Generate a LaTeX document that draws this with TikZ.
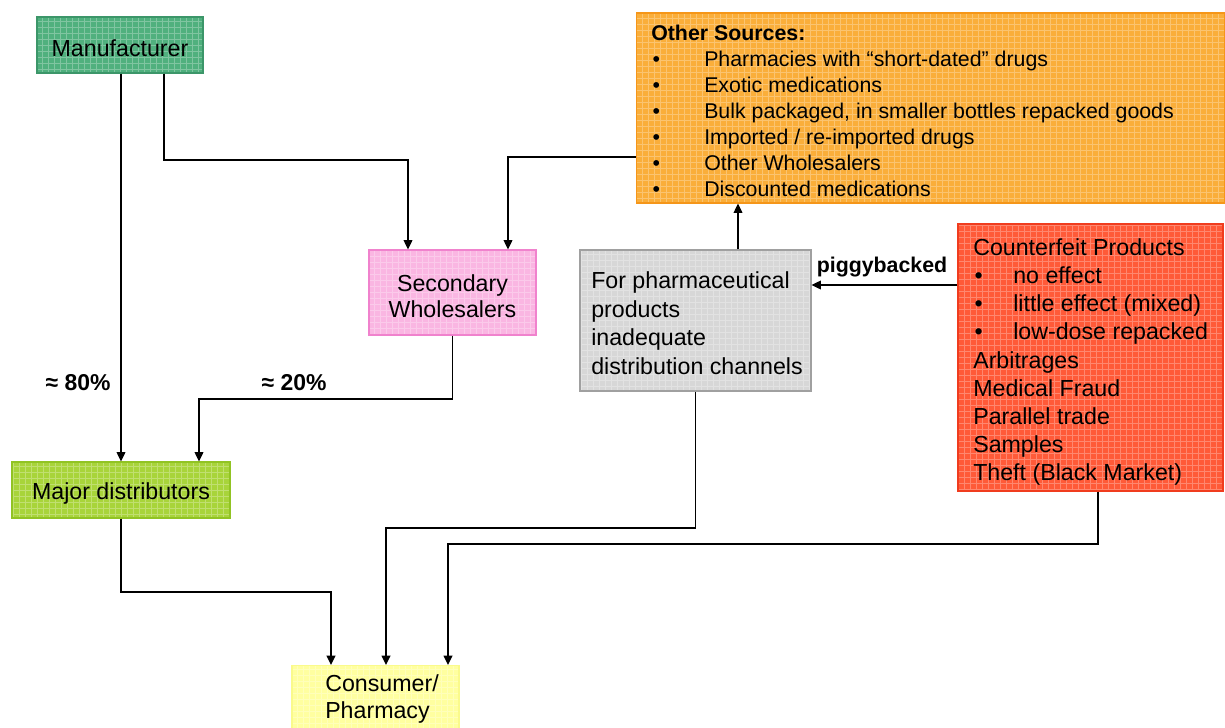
\documentclass[tikz,border=0pt]{standalone}
\usepackage{fontspec}
\setmainfont{Liberation Sans}
\usetikzlibrary{arrows.meta}

\definecolor{mfgreen}{RGB}{80,176,126}
\definecolor{mfgreenD}{RGB}{60,150,105}
\definecolor{secpink}{RGB}{250,182,226}
\definecolor{secpinkD}{RGB}{240,130,205}
\definecolor{othorange}{RGB}{250,174,58}
\definecolor{othorangeD}{RGB}{245,150,25}
\definecolor{grayfill}{RGB}{215,215,215}
\definecolor{grayD}{RGB}{160,160,160}
\definecolor{cfred}{RGB}{255,90,56}
\definecolor{cfredD}{RGB}{240,60,30}
\definecolor{majgreen}{RGB}{168,212,58}
\definecolor{majgreenD}{RGB}{145,195,35}
\definecolor{consyellow}{RGB}{255,255,160}
\definecolor{consyellowD}{RGB}{250,250,140}

\newcommand{\itm}[1]{\makebox[#1][l]{\hspace{1pt}•}}

\begin{document}
\begin{tikzpicture}[
  x=0.75pt, y=-0.75pt,
  box/.style={draw, line width=0.8pt, inner sep=0pt,
    path picture={\draw[white, opacity=0.28, line width=0.5pt, step=4.5pt]
      (path picture bounding box.south west) grid (path picture bounding box.north east);}},
  txt/.style={inner sep=0pt, align=left, anchor=west},
  bigtxt/.style={font=\fontsize{17.4}{21}\selectfont},
  lbl/.style={font=\bfseries\fontsize{16}{19}\selectfont, inner sep=0pt},
  pct/.style={font=\bfseries\fontsize{17.2}{19}\selectfont, inner sep=0pt},
  conn/.style={line width=1.1pt, -{Triangle[length=7pt,width=6.5pt]}},
]
\useasboundingbox (0,0) rectangle (1225,728);

% ---------- boxes ----------
\node[box, fill=mfgreen, draw=mfgreenD, minimum width=124.5pt, minimum height=42pt]
  (mf) at (120,45) {};
\node[inner sep=0pt, bigtxt] (mftext) at (120,48) {Manufacturer};

\node[box, fill=secpink, draw=secpinkD, minimum width=125.25pt, minimum height=63.75pt]
  (sec) at (452.5,292.5) {};
\node[inner sep=0pt, align=center, font=\fontsize{17.4}{19.5}\selectfont]
  (sectext) at (452.5,296.5) {Secondary\\Wholesalers};

\node[box, fill=othorange, draw=othorangeD, minimum width=441pt, minimum height=142.5pt]
  (other) at (930.5,108) {};
\node[txt, font=\fontsize{16}{19.5}\selectfont]
  (othertext) at (651,111) {\textbf{Other Sources:}\\
  \itm{39.75pt}Pharmacies with “short-dated” drugs\\
  \itm{39.75pt}Exotic medications\\
  \itm{39.75pt}Bulk packaged, in smaller bottles repacked goods\\
  \itm{39.75pt}Imported / re-imported drugs\\
  \itm{39.75pt}Other Wholesalers\\
  \itm{39.75pt}Discounted medications};

\node[box, fill=grayfill, draw=grayD, minimum width=173.25pt, minimum height=105.75pt]
  (gray) at (695.5,320.5) {};
\node[txt, font=\fontsize{17.4}{21.4}\selectfont]
  (graytext) at (591,323) {For pharmaceutical\\products\\inadequate\\distribution channels};

\node[box, fill=cfred, draw=cfredD, minimum width=198.75pt, minimum height=200.25pt]
  (cf) at (1090.5,357.5) {};
\node[txt, font=\fontsize{17.4}{21.1}\selectfont]
  (cftext) at (973,362) {Counterfeit Products\\
  \itm{30pt}no effect\\
  \itm{30pt}little effect (mixed)\\
  \itm{30pt}low-dose repacked\\
  Arbitrages\\
  Medical Fraud\\
  Parallel trade\\
  Samples\\
  Theft (Black Market)};

\node[box, fill=majgreen, draw=majgreenD, minimum width=163.5pt, minimum height=42pt]
  (major) at (121,490) {};
\node[inner sep=0pt, bigtxt] (majortext) at (121,493) {Major distributors};

\node[box, fill=consyellow, draw=consyellowD, minimum width=125.25pt, minimum height=60pt, anchor=north]
  (cons) at (375.5,665) {};
\node[txt, font=\fontsize{17.4}{20.25}\selectfont]
  (constext) at (325,699) {Consumer/\\Pharmacy};

% ---------- bend points of the connectors ----------
\coordinate (b1) at (164,160);
\coordinate (b2) at (408,160);
\coordinate (b3) at (508,157);
\coordinate (b4) at (199,399);
\coordinate (b5) at (738,0);
\coordinate (b6) at (0,285);
\coordinate (b7) at (331,592);
\coordinate (b8) at (386,528);
\coordinate (b9) at (1098,544);
\coordinate (b10) at (448,544);

% ---------- connectors ----------
\draw[conn] (mf.south -| major.north) -- (major.north);
\draw[conn] (mf.south -| b1) -- (b1) -- (b2) -- (sec.north -| b2);
\draw[conn] (other.west |- b3) -- (b3) -- (sec.north -| b3);
\draw[conn] (sec.south) |- (b4) -- (major.north -| b4);
\draw[conn] (gray.north -| b5) -- (other.south -| b5);
\draw[conn] (cf.west |- b6) -- (gray.east |- b6);
\draw[conn] (major.south) |- (b7) -- (cons.north -| b7);
\draw[conn] (gray.south) |- (b8) -- (cons.north -| b8);
\draw[conn] (cf.south -| b9) -- (b9) -- (b10) -- (cons.north -| b10);

% ---------- labels ----------
\node[lbl] (pig) at (882,267) {piggybacked};
\node[pct] (p80) at (78,383) {≈ 80\%};
\node[pct] (p20) at (294,383) {≈ 20\%};
\end{tikzpicture}
\end{document}
